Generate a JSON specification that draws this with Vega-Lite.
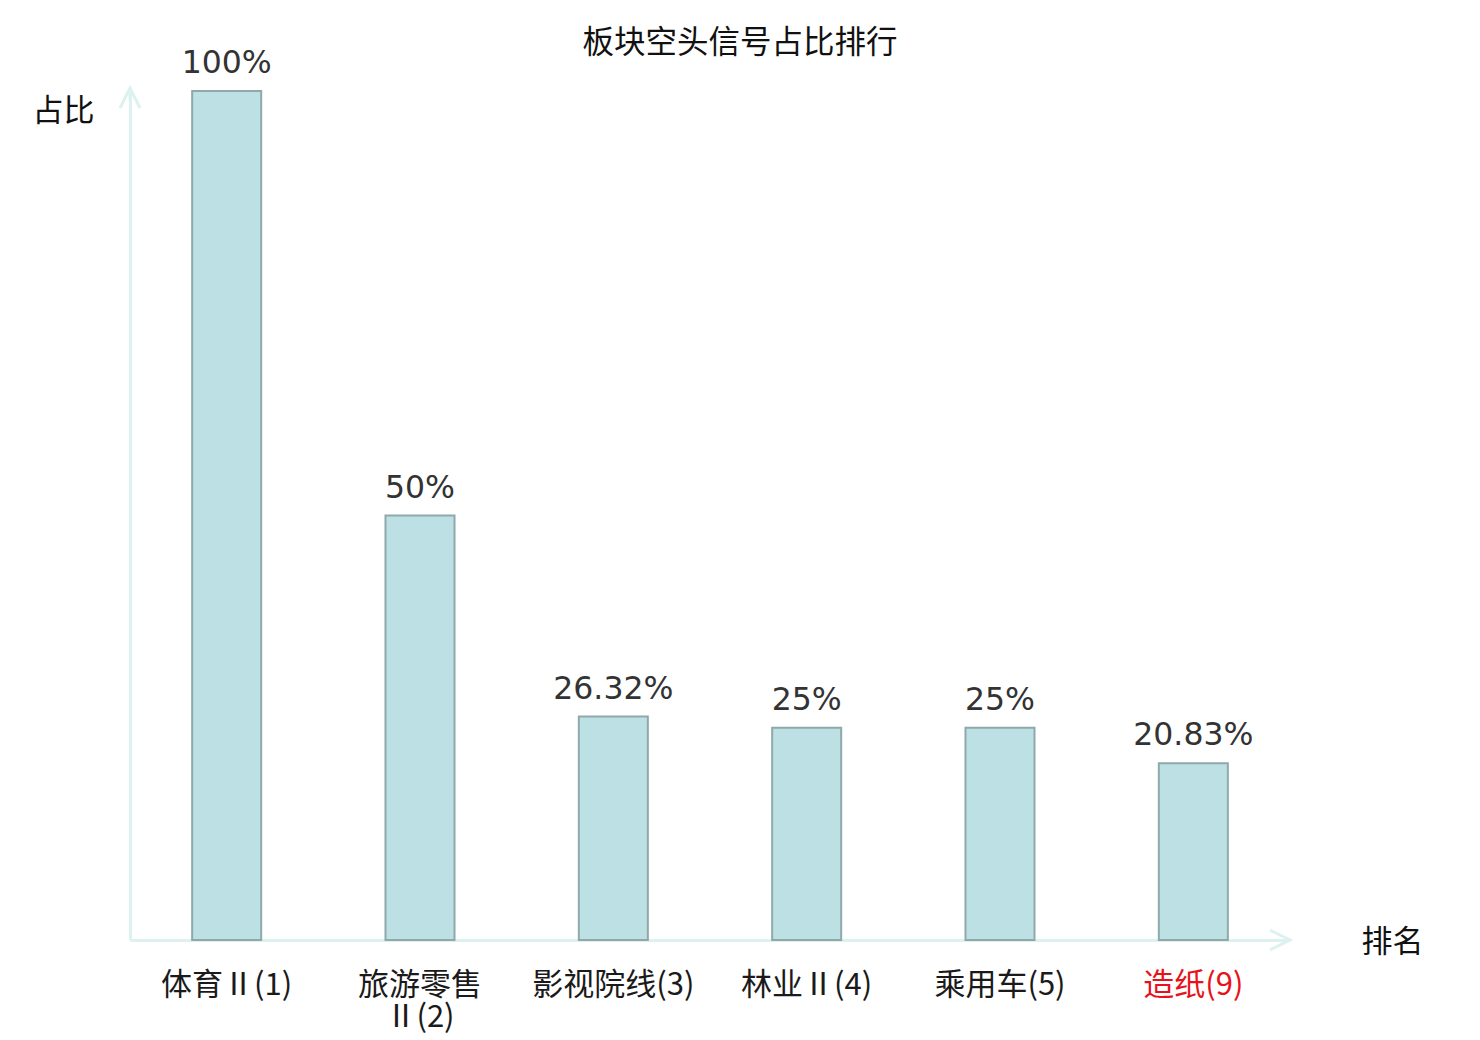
{
  "$schema": "https://vega.github.io/schema/vega-lite/v6.json",
  "width": 1160,
  "height": 849,
  "autosize": {"type": "none"},
  "padding": {"left": 130, "top": 91, "right": 190, "bottom": 100},
  "background": "white",
  "config": {"view": {"stroke": null}, "font": "Noto Sans CJK SC"},
  "title": {
    "text": "板块空头信号占比排行",
    "anchor": "middle",
    "frame": "group",
    "fontSize": 31.5,
    "fontWeight": "normal",
    "color": "#111111",
    "font": "Noto Sans CJK SC",
    "dx": 30,
    "offset": -11
  },
  "data": {
    "values": [
      {"name": "体育Ⅱ(1)", "value": 100},
      {"name": "旅游零售Ⅱ(2)", "value": 50},
      {"name": "影视院线(3)", "value": 26.32},
      {"name": "林业Ⅱ(4)", "value": 25},
      {"name": "乘用车(5)", "value": 25},
      {"name": "造纸(9)", "value": 20.83}
    ]
  },
  "resolve": {"scale": {"x": "independent", "y": "independent"}},
  "layer": [
    {
      "encoding": {
        "x": {
          "field": "name",
          "type": "nominal",
          "sort": null,
          "scale": {"paddingInner": 0.643, "paddingOuter": 0.3215},
          "axis": {
            "title": "排名",
            "titleAngle": 0,
            "titleX": 1262,
            "titleY": 2,
            "titleAlign": "center",
            "titleBaseline": "middle",
            "titleFontSize": 31,
            "titleFontWeight": "normal",
            "titleColor": "#111111",
            "titleFont": "Noto Sans CJK SC",
            "domain": true,
            "domainColor": "#ddf1ee",
            "domainWidth": 3,
            "ticks": false,
            "grid": false,
            "labelAngle": 0,
            "labelFontSize": 31,
            "labelFont": "Noto Sans CJK SC",
            "labelPadding": 30,
            "labelBaseline": "top",
            "labelLineHeight": 32,
            "labelColor": {"expr": "datum.value == '造纸(9)' ? '#e8121a' : '#1a1a1a'"},
            "labelExpr": "datum.value == '旅游零售Ⅱ(2)' ? ['旅游零售', 'Ⅱ(2)'] : datum.label"
          }
        },
        "y": {
          "field": "value",
          "type": "quantitative",
          "scale": {"domain": [0, 100], "nice": false},
          "axis": {
            "title": "占比",
            "titleAngle": 0,
            "titleX": -67,
            "titleY": 20,
            "titleAlign": "center",
            "titleBaseline": "middle",
            "titleFontSize": 31,
            "titleFontWeight": "normal",
            "titleColor": "#111111",
            "titleFont": "Noto Sans CJK SC",
            "domain": true,
            "domainColor": "#ddf1ee",
            "domainWidth": 3,
            "ticks": false,
            "labels": false,
            "grid": false
          }
        }
      },
      "layer": [
        {
          "mark": {"type": "bar", "fill": "#bce0e3", "stroke": "#8fa9ab", "strokeWidth": 2}
        },
        {
          "mark": {
            "type": "text",
            "baseline": "alphabetic",
            "align": "center",
            "dy": -18,
            "fontSize": 31.5,
            "font": "DejaVu Sans",
            "color": "#333333",
            "text": {"expr": "datum.value + '%'"}
          }
        }
      ]
    },
    {
      "data": {"values": [{}]},
      "encoding": {
        "x": {"datum": 0, "type": "quantitative", "scale": {"domain": [0, 1]}, "axis": null},
        "y": {"datum": 100, "type": "quantitative", "scale": {"domain": [0, 100], "nice": false}, "axis": null}
      },
      "layer": [
        {
          "mark": {
            "type": "point",
            "shape": "M-1,1.7L0,-0.3L1,1.7M0,-0.3L0,1",
            "size": 400,
            "filled": false,
            "stroke": "#ddf1ee",
            "strokeWidth": 3,
            "opacity": 1,
            "clip": false
          }
        },
        {
          "mark": {
            "type": "point",
            "shape": "M-2,-1L0,0L-2,1",
            "size": 400,
            "filled": false,
            "stroke": "#ddf1ee",
            "strokeWidth": 3,
            "opacity": 1,
            "clip": false
          },
          "encoding": {
            "x": {"datum": 1, "type": "quantitative"},
            "y": {"datum": 0, "type": "quantitative"}
          }
        }
      ]
    }
  ]
}
